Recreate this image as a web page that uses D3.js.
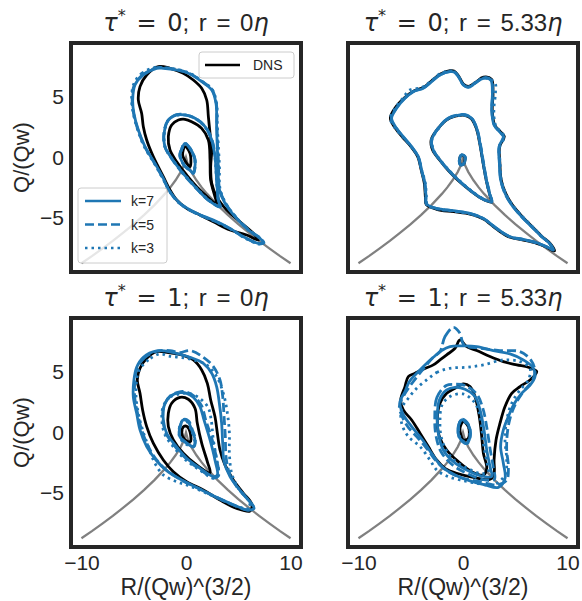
<!DOCTYPE html>
<html><head><meta charset="utf-8">
<script src="https://cdn.jsdelivr.net/npm/d3@7"></script>
<style>body{margin:0;background:#fff}svg{display:block}</style>
</head><body>
<script>
// ---------- data ----------
const xTicks = [-10, 0, 10];
const yTicks = [-5, 0, 5];
const seriesNames = ["DNS", "k=7", "k=5", "k=3"];
const titles = [["0","0"],["0","5.33"],["1","0"],["1","5.33"]];

// Vieillefosse tails (R, Q)
const vfR = [-10,-9,-8,-7,-6,-5,-4,-3,-2,-1.5,-1,-0.5,-0.2,0,0.2,0.5,1,1.5,2,3,4,5,6,7,8,9,10];
const vfQ = [-8.77,-8.18,-7.56,-6.92,-6.24,-5.53,-4.76,-3.93,-3.0,-2.48,-1.89,-1.19,-0.65,0,-0.65,-1.19,-1.89,-2.48,-3.0,-3.93,-4.76,-5.53,-6.24,-6.92,-7.56,-8.18,-8.77];

// ---- top-left: tau*=0, r=0 ----
const tl_dns_outer = [[-2.65,7.54],[-3.76,6.85],[-4.40,5.88],[-4.56,4.77],[-4.24,3.66],[-4.08,2.56],[-3.76,1.45],[-3.13,0.07],[-2.17,-1.59],[-1.53,-2.70],[-0.89,-3.53],[0.06,-4.22],[1.34,-4.77],[2.62,-5.33],[4.21,-6.02],[5.80,-6.43],[6.92,-6.85],[6.44,-6.29],[5.17,-5.33],[3.89,-4.36],[2.93,-3.25],[2.46,-2.14],[2.36,-0.76],[2.46,0.62],[2.30,2.0],[2.14,3.39],[1.98,4.77],[1.50,5.74],[0.70,6.43],[-0.26,6.98],[-1.53,7.40]];
const tl_dns_mid = [[-0.73,3.11],[-1.37,2.70],[-1.69,1.73],[-1.53,0.62],[-0.89,-0.35],[0.06,-1.45],[1.34,-2.70],[2.93,-3.80],[2.77,-3.25],[2.36,-1.87],[2.30,-0.21],[2.14,1.45],[1.50,2.42],[0.54,2.97],[-0.10,3.17]];
const tl_dns_in = [[-0.10,0.90],[-0.32,0.21],[0.0,-0.4],[0.38,-0.76],[0.45,0.07],[0.25,0.6]];
const tl_k7_outer = [[-2.81,7.40],[-4.08,6.85],[-4.88,6.02],[-5.10,4.77],[-4.98,3.66],[-4.56,2.28],[-3.92,0.90],[-2.97,-0.49],[-2.17,-1.73],[-1.53,-2.84],[-0.58,-3.80],[1.02,-4.63],[2.62,-5.19],[4.21,-5.88],[5.49,-6.57],[6.92,-7.12],[7.40,-7.07],[7.08,-6.71],[5.96,-6.02],[4.69,-4.91],[3.73,-3.80],[3.16,-2.56],[3.09,-0.76],[2.99,0.90],[2.93,2.56],[2.87,4.49],[2.46,5.60],[1.50,6.29],[0.38,6.93],[-0.89,7.26],[-2.17,7.40]];
const tl_k7_mid = [[-0.89,3.53],[-1.69,3.11],[-2.07,2.14],[-2.01,0.90],[-1.37,-0.07],[-0.42,-1.18],[0.86,-2.42],[2.14,-3.53],[3.25,-4.08],[3.09,-3.53],[2.93,-1.87],[2.77,0.07],[2.46,1.45],[1.82,2.56],[0.86,3.25],[-0.10,3.53]];
const tl_k7_in = [[-0.10,1.17],[-0.45,0.6],[-0.58,0.21],[-0.2,-0.6],[0.54,-1.18],[0.70,-1.31],[0.86,-0.21],[0.38,0.76]];
const tl_k5_outer = [[-2.75,7.45],[-4.1,6.9],[-4.95,6.0],[-5.15,4.75],[-5.0,3.6],[-4.6,2.3],[-3.95,0.9],[-3.0,-0.5],[-2.2,-1.75],[-1.55,-2.85],[-0.6,-3.82],[1.0,-4.65],[2.6,-5.22],[4.2,-5.9],[5.5,-6.6],[6.95,-7.15],[7.45,-7.1],[7.1,-6.7],[6.0,-6.0],[4.72,-4.9],[3.78,-3.78],[3.2,-2.55],[3.12,-0.75],[3.02,0.92],[2.96,2.58],[2.9,4.5],[2.5,5.62],[1.52,6.32],[0.4,6.95],[-0.88,7.3],[-2.15,7.44]];
const tl_k5_mid = [[-0.9,3.55],[-1.7,3.1],[-2.1,2.15],[-2.03,0.9],[-1.38,-0.08],[-0.43,-1.2],[0.85,-2.44],[2.15,-3.55],[3.27,-4.1],[3.1,-3.5],[2.95,-1.85],[2.8,0.08],[2.48,1.47],[1.83,2.58],[0.85,3.27],[-0.1,3.55]];
const tl_k5_in = [[-0.12,1.15],[-0.46,0.6],[-0.6,0.2],[-0.22,-0.62],[0.55,-1.2],[0.72,-1.3],[0.87,-0.2],[0.38,0.78]];
const tl_k3_outer = [[-2.85,7.5],[-4.2,7.0],[-5.0,6.1],[-5.2,4.8],[-5.05,3.7],[-4.62,2.3],[-3.98,0.88],[-3.02,-0.5],[-2.2,-1.78],[-1.5,-2.9],[-0.55,-3.85],[1.05,-4.68],[2.65,-5.25],[4.25,-5.92],[5.5,-6.62],[6.95,-7.18],[7.45,-7.12],[7.1,-6.72],[6.0,-6.05],[4.75,-4.92],[3.8,-3.8],[3.25,-2.55],[3.2,-0.76],[3.1,0.9],[3.0,2.56],[2.92,4.5],[2.5,5.65],[1.5,6.35],[0.38,6.98],[-0.9,7.32],[-2.17,7.45]];
const tl_k3_mid = [[-0.88,3.5],[-1.68,3.12],[-2.06,2.12],[-2.0,0.88],[-1.36,-0.06],[-0.4,-1.17],[0.87,-2.4],[2.13,-3.5],[3.23,-4.06],[3.08,-3.55],[2.92,-1.88],[2.76,0.06],[2.45,1.44],[1.8,2.55],[0.87,3.24],[-0.1,3.52]];
const tl_k3_in = [[-0.1,1.18],[-0.44,0.62],[-0.57,0.22],[-0.19,-0.58],[0.53,-1.16],[0.69,-1.3],[0.85,-0.22],[0.37,0.75]];

// ---- top-right: tau*=0, r=5.33 ----
const tr_dns_outer = [[-1.24,7.2],[-2.2,6.9],[-3.0,6.35],[-3.8,5.8],[-4.75,5.5],[-5.6,4.95],[-6.5,4.1],[-6.95,3.25],[-6.45,2.4],[-5.8,1.7],[-4.95,0.88],[-4.32,0.05],[-4.0,-1.04],[-3.7,-2.14],[-3.6,-3.25],[-3.52,-3.9],[-2.52,-4.3],[-0.92,-4.5],[0.67,-4.7],[1.95,-5.1],[3.22,-5.95],[4.5,-6.62],[5.77,-6.85],[7.05,-7.12],[8.01,-7.45],[8.75,-7.75],[8.35,-7.15],[7.55,-6.55],[6.6,-5.72],[5.65,-4.88],[4.7,-3.9],[4.06,-2.94],[3.65,-1.85],[3.53,-0.49],[3.5,0.9],[3.95,1.75],[3.55,2.16],[3.02,2.72],[2.8,3.94],[2.87,5.32],[2.72,6.5],[1.95,6.66],[1.15,6.2],[0.51,5.9],[0.03,6.1],[-0.45,6.8],[-0.86,7.18]];
const tr_dns_mid = [[-0.29,3.5],[-1.4,3.22],[-2.4,2.4],[-3.05,1.45],[-2.9,0.6],[-2.22,-0.22],[-1.42,-1.06],[-0.46,-1.9],[0.67,-2.72],[1.79,-3.41],[2.74,-3.7],[2.56,-3.1],[2.25,-2.0],[1.93,-0.49],[1.6,1.17],[1.28,2.4],[0.8,3.22],[0.19,3.5]];
const tr_dns_in = [[-0.13,0.2],[-0.33,-0.2],[-0.2,-0.6],[0.08,-0.5],[0.17,0.05]];
const tr_k7_outer = [[-1.24,7.12],[-2.2,6.85],[-3.0,6.29],[-3.8,5.74],[-4.75,5.46],[-5.55,4.91],[-6.35,4.08],[-6.83,3.25],[-6.35,2.42],[-5.71,1.73],[-4.91,0.90],[-4.27,0.07],[-3.96,-1.04],[-3.64,-2.14],[-3.54,-3.25],[-3.48,-3.86],[-2.52,-4.22],[-0.92,-4.41],[0.67,-4.63],[1.95,-5.05],[3.22,-5.88],[4.50,-6.57],[5.77,-6.79],[7.05,-7.07],[8.01,-7.40],[8.64,-7.68],[8.33,-7.18],[7.53,-6.57],[6.57,-5.74],[5.61,-4.91],[4.66,-3.94],[4.02,-2.97],[3.60,-1.87],[3.48,-0.49],[3.45,0.90],[3.86,1.73],[3.48,2.14],[2.97,2.70],[2.74,3.94],[2.81,5.32],[2.65,6.43],[1.95,6.57],[1.15,6.15],[0.51,5.82],[0.03,6.02],[-0.45,6.71],[-0.86,7.10]];
const tr_k7_mid = [[-0.29,3.53],[-1.40,3.25],[-2.36,2.42],[-3.00,1.45],[-2.84,0.62],[-2.20,-0.21],[-1.40,-1.04],[-0.45,-1.87],[0.67,-2.70],[1.79,-3.39],[2.74,-3.67],[2.58,-3.11],[2.27,-2.01],[1.95,-0.49],[1.63,1.17],[1.31,2.42],[0.83,3.25],[0.19,3.53]];
const tr_k7_in = [[-0.13,0.21],[-0.35,-0.21],[-0.22,-0.62],[0.10,-0.49],[0.19,0.07]];
const tr_k5_outer = [[-1.22,7.15],[-2.18,6.87],[-3.02,6.3],[-3.82,5.76],[-4.78,5.48],[-5.58,4.92],[-6.38,4.1],[-6.86,3.24],[-6.37,2.4],[-5.73,1.72],[-4.93,0.9],[-4.29,0.06],[-3.98,-1.05],[-3.66,-2.15],[-3.56,-3.26],[-3.5,-3.88],[-2.5,-4.24],[-0.9,-4.43],[0.69,-4.65],[1.97,-5.07],[3.24,-5.9],[4.52,-6.58],[5.79,-6.8],[7.07,-7.08],[8.03,-7.42],[8.62,-7.66],[8.3,-7.16],[7.5,-6.55],[6.55,-5.72],[5.6,-4.9],[4.65,-3.92],[4.0,-2.96],[3.62,-1.86],[3.5,-0.48],[3.47,0.9],[3.88,1.75],[3.5,2.15],[2.99,2.7],[2.76,3.95],[2.83,5.33],[2.67,6.45],[1.96,6.6],[1.14,6.17],[0.5,5.84],[0.02,6.04],[-0.44,6.73],[-0.85,7.12]];
const tr_k5_mid = [[-0.3,3.55],[-1.42,3.26],[-2.38,2.43],[-3.02,1.45],[-2.85,0.61],[-2.21,-0.22],[-1.41,-1.05],[-0.44,-1.88],[0.68,-2.72],[1.8,-3.4],[2.76,-3.69],[2.6,-3.1],[2.29,-2.0],[1.97,-0.48],[1.65,1.18],[1.32,2.43],[0.84,3.26],[0.2,3.55]];
const tr_k5_in = [[-0.12,0.22],[-0.34,-0.2],[-0.21,-0.61],[0.11,-0.48],[0.2,0.08]];
const tr_k3_outer = [[-1.26,7.18],[-2.25,6.92],[-3.05,6.35],[-3.9,5.82],[-5.1,5.6],[-5.7,4.98],[-6.45,4.12],[-6.95,3.25],[-6.45,2.4],[-5.75,1.7],[-4.95,0.88],[-4.3,0.05],[-3.95,-1.05],[-3.6,-2.15],[-3.5,-3.27],[-3.4,-3.92],[-2.5,-4.26],[-0.9,-4.46],[0.7,-4.68],[1.98,-5.1],[3.25,-5.93],[4.53,-6.6],[5.8,-6.82],[7.08,-7.1],[8.05,-7.44],[8.6,-7.65],[8.28,-7.14],[7.5,-6.52],[6.6,-5.7],[5.65,-4.86],[4.7,-3.9],[4.06,-2.94],[3.66,-1.85],[3.55,-0.5],[3.52,0.9],[3.95,1.72],[3.58,2.14],[3.1,2.72],[2.95,3.95],[3.1,5.3],[3.05,6.2],[2.0,6.62],[1.15,6.2],[0.52,5.86],[0.04,6.06],[-0.43,6.75],[-0.84,7.15]];
const tr_k3_mid = [[-0.28,3.5],[-1.38,3.22],[-2.34,2.4],[-2.98,1.44],[-2.82,0.63],[-2.18,-0.2],[-1.38,-1.02],[-0.43,-1.85],[0.68,-2.68],[1.8,-3.37],[2.72,-3.64],[2.56,-3.12],[2.25,-2.02],[1.93,-0.5],[1.61,1.16],[1.29,2.4],[0.82,3.22],[0.18,3.5]];
const tr_k3_in = [[-0.14,0.2],[-0.36,-0.22],[-0.23,-0.63],[0.09,-0.5],[0.18,0.06]];

// ---- bottom-left: tau*=1, r=0 ----
const bl_dns_outer = [[-2.81,6.71],[-3.76,6.16],[-4.40,5.33],[-4.66,4.36],[-4.40,3.25],[-4.15,1.87],[-3.76,0.49],[-3.13,-0.89],[-2.17,-2.28],[-1.21,-3.25],[0.06,-4.08],[1.66,-4.77],[3.25,-5.60],[4.85,-6.29],[6.12,-6.51],[6.28,-5.93],[5.49,-5.04],[4.53,-3.94],[3.73,-2.69],[3.25,-1.45],[3.00,-0.06],[2.77,1.32],[2.36,2.70],[2.04,4.08],[1.50,5.19],[0.70,6.02],[-0.42,6.44],[-1.69,6.63]];
const bl_dns_mid = [[-0.57,2.92],[-1.37,2.43],[-1.69,1.59],[-1.69,0.49],[-1.21,-0.62],[-0.26,-1.72],[1.02,-2.69],[2.30,-3.33],[2.04,-2.42],[1.50,-0.89],[1.08,0.76],[0.86,2.01],[0.22,2.76]];
const bl_dns_in = [[-0.2,0.5],[-0.4,0.0],[-0.1,-0.6],[0.4,-0.76],[0.4,0.0],[0.1,0.5]];
const bl_k7_outer = [[-2.81,6.77],[-4.08,6.24],[-4.72,5.41],[-4.98,4.36],[-5.04,2.98],[-4.72,1.59],[-4.40,0.21],[-3.76,-1.17],[-2.87,-2.28],[-1.85,-3.16],[-0.42,-3.94],[1.18,-4.63],[2.77,-5.32],[4.37,-5.93],[5.96,-6.43],[6.51,-6.29],[5.96,-5.60],[5.01,-4.63],[4.21,-3.66],[3.64,-2.42],[3.51,-0.89],[3.41,0.76],[3.19,2.43],[2.93,3.81],[2.46,4.91],[1.66,5.74],[0.38,6.24],[-1.21,6.63]];
const bl_k7_mid = [[-0.57,3.31],[-1.53,2.98],[-2.11,2.15],[-2.17,1.04],[-1.85,-0.06],[-1.05,-1.03],[0.06,-2.14],[1.34,-2.97],[2.62,-3.66],[3.0,-3.52],[2.77,-2.28],[2.30,-0.62],[1.72,1.04],[1.34,2.15],[0.70,2.92],[0.06,3.25]];
const bl_k7_in = [[-0.26,1.04],[-0.58,0.49],[-0.58,-0.34],[0.06,-0.89],[0.70,-1.17],[0.86,-0.62],[0.54,0.21],[0.2,0.9]];
const bl_k5_outer = [[-2.65,6.77],[-3.92,6.24],[-4.66,5.41],[-4.88,4.36],[-4.91,2.98],[-4.63,1.59],[-4.24,0.21],[-3.60,-1.17],[-2.81,-2.28],[-1.69,-3.25],[-0.26,-4.02],[1.34,-4.71],[2.93,-5.38],[4.53,-6.01],[5.96,-6.43],[6.44,-6.15],[5.80,-5.46],[4.85,-4.49],[4.15,-3.38],[3.83,-2.0],[3.76,-0.34],[3.64,1.32],[3.51,2.98],[3.25,4.36],[2.62,5.47],[1.66,6.24],[0.38,6.80],[-0.58,6.63],[-1.53,6.80]];
const bl_k5_mid = [[-0.5,3.4],[-1.5,3.05],[-2.1,2.2],[-2.2,1.0],[-1.9,-0.1],[-1.1,-1.1],[0.05,-2.2],[1.3,-3.05],[2.6,-3.75],[3.1,-3.6],[2.95,-2.3],[2.5,-0.6],[1.9,1.0],[1.5,2.2],[0.8,3.0],[0.1,3.35]];
const bl_k5_in = [[-0.2,1.1],[-0.55,0.5],[-0.6,-0.3],[0.05,-0.85],[0.72,-1.2],[0.9,-0.6],[0.6,0.25],[0.25,0.95]];
const bl_k3_outer = [[-2.49,6.52],[-3.60,6.02],[-4.47,5.19],[-4.72,4.36],[-4.78,2.98],[-4.56,1.59],[-4.15,0.21],[-3.60,-1.17],[-2.97,-2.55],[-2.17,-3.52],[-0.89,-4.08],[0.38,-4.44],[1.98,-5.04],[3.57,-5.65],[5.17,-6.21],[6.12,-6.29],[5.96,-5.65],[5.01,-4.63],[4.37,-3.38],[4.15,-1.72],[4.15,-0.06],[3.96,1.59],[3.57,3.25],[2.93,4.64],[1.98,5.61],[0.70,6.02],[-0.58,6.24],[-1.69,6.35]];
const bl_k3_mid = [[-0.6,3.2],[-1.6,2.9],[-2.2,2.1],[-2.3,0.9],[-2.0,-0.2],[-1.2,-1.2],[0.0,-2.3],[1.3,-3.1],[2.7,-3.8],[3.1,-3.4],[2.9,-2.1],[2.6,-0.5],[2.4,1.1],[2.1,2.1],[1.2,2.9],[0.2,3.25]];
const bl_k3_in = [[-0.3,1.0],[-0.62,0.45],[-0.6,-0.4],[0.0,-0.95],[0.68,-1.15],[0.82,-0.6],[0.5,0.2],[0.15,0.85]];

// ---- bottom-right: tau*=1, r=5.33 ----
const br_dns_outer = [[-0.29,7.68],[-0.76,6.99],[-1.56,6.44],[-2.20,6.02],[-2.84,5.61],[-3.80,5.25],[-4.59,4.91],[-5.23,4.64],[-5.55,3.81],[-5.96,2.70],[-5.71,1.87],[-4.91,1.04],[-4.11,-0.06],[-3.32,-1.17],[-2.52,-2.28],[-1.72,-2.97],[-0.61,-3.38],[0.99,-3.72],[2.58,-3.88],[2.97,-3.38],[2.97,-2.28],[3.16,-0.62],[3.54,0.77],[4.02,2.15],[4.66,3.25],[5.45,3.81],[6.41,4.36],[7.05,5.05],[6.25,5.41],[5.14,5.61],[3.86,5.88],[2.58,6.30],[1.31,6.80],[0.35,7.13]];
const br_dns_mid = [[0.03,4.03],[-0.76,3.67],[-1.56,3.25],[-2.20,2.43],[-2.46,1.04],[-2.26,-0.34],[-1.56,-1.45],[-0.45,-2.42],[0.83,-3.25],[1.95,-3.52],[2.27,-2.97],[1.95,-1.72],[1.79,-0.34],[1.56,1.32],[1.15,2.98],[0.67,3.81]];
const br_dns_in = [[0.03,0.90],[-0.29,0.35],[0.03,-0.62],[0.51,-0.48],[0.51,0.49]];
const br_k7_outer = [[-1.24,7.13],[0.03,7.18],[1.31,7.13],[2.90,6.79],[4.50,6.52],[5.77,6.02],[6.67,5.41],[6.89,4.64],[6.35,3.86],[5.61,3.25],[4.88,2.37],[4.34,1.32],[3.86,0.21],[3.60,-1.17],[3.86,-2.55],[4.02,-3.80],[3.38,-4.55],[2.11,-4.35],[0.67,-4.02],[-0.77,-3.52],[-1.95,-2.89],[-2.90,-1.86],[-3.86,-0.62],[-4.91,0.49],[-5.77,1.59],[-6.03,2.56],[-5.55,3.39],[-5.14,4.22],[-4.43,4.91],[-3.64,5.61],[-2.84,6.24],[-2.04,6.80]];
const br_k7_mid = [[-1.56,3.53],[-2.26,2.70],[-2.46,1.32],[-2.36,-0.06],[-1.88,-1.45],[-0.92,-2.42],[0.35,-3.11],[1.79,-3.61],[2.74,-3.66],[2.58,-2.83],[2.27,-1.45],[2.01,0.21],[1.63,1.87],[1.15,2.98],[0.19,3.59],[-0.77,3.75]];
const br_k7_in = [[-0.13,1.04],[-0.45,0.35],[-0.29,-0.48],[0.35,-0.89],[0.67,-0.34],[0.51,0.62]];
const br_k5_outer = [[-2.20,6.71],[-1.72,7.96],[-0.92,8.73],[-0.29,8.23],[0.09,7.27],[1.63,6.99],[3.54,6.80],[5.45,6.71],[6.48,6.02],[6.89,5.05],[6.57,4.22],[5.77,3.39],[4.98,2.29],[4.50,1.18],[4.24,-0.06],[4.18,-1.45],[4.34,-2.83],[4.18,-3.94],[3.22,-4.35],[1.63,-4.08],[0.03,-3.80],[-1.40,-3.25],[-2.52,-2.42],[-3.48,-1.31],[-4.43,-0.34],[-5.39,0.62],[-6.09,2.15],[-5.71,2.98],[-5.07,3.86],[-4.27,4.77],[-3.48,5.61],[-2.84,6.24]];
const br_k5_mid = [[-1.6,3.9],[-2.5,2.9],[-2.7,1.3],[-2.6,-0.2],[-2.1,-1.6],[-1.0,-2.7],[0.4,-3.4],[1.9,-3.9],[3.0,-3.9],[2.9,-2.9],[2.6,-1.4],[2.3,0.3],[1.9,2.0],[1.3,3.2],[0.2,3.9],[-0.8,4.0]];
const br_k5_in = [[-0.1,1.1],[-0.48,0.35],[-0.3,-0.52],[0.38,-0.92],[0.7,-0.3],[0.52,0.66]];
const br_k3_outer = [[-3.48,4.36],[-2.52,4.97],[-1.24,5.33],[0.35,5.41],[1.95,5.61],[3.86,6.02],[5.45,5.88],[6.41,5.33],[6.25,4.36],[5.45,3.53],[4.66,2.43],[4.18,1.04],[4.02,-0.62],[4.18,-2.28],[4.02,-3.52],[2.90,-4.35],[1.31,-4.21],[-0.29,-3.94],[-1.56,-3.61],[-2.52,-3.11],[-3.16,-2.28],[-4.11,-1.17],[-5.23,-0.34],[-5.87,0.77],[-5.87,2.01],[-5.23,2.84],[-4.43,3.67]];
const br_k3_mid = [[-1.2,3.0],[-2.0,2.3],[-2.2,1.0],[-2.1,-0.3],[-1.6,-1.5],[-0.7,-2.4],[0.5,-3.0],[1.7,-3.4],[2.4,-3.3],[2.3,-2.5],[2.0,-1.2],[1.8,0.3],[1.5,1.8],[0.9,2.7],[0.0,3.2]];
const br_k3_in = [[-0.16,1.0],[-0.42,0.32],[-0.26,-0.45],[0.32,-0.85],[0.64,-0.36],[0.48,0.58]];

// ---------- layout ----------
const W = 582, H = 601;
const PW = 230, PH = 229;
const origins = [[71,43],[348,43],[71,318],[348,318]];
const panelData = [
  {dns:[tl_dns_outer,tl_dns_mid,tl_dns_in], k7:[tl_k7_outer,tl_k7_mid,tl_k7_in], k5:[tl_k5_outer,tl_k5_mid,tl_k5_in], k3:[tl_k3_outer,tl_k3_mid,tl_k3_in]},
  {dns:[tr_dns_outer,tr_dns_mid,tr_dns_in], k7:[tr_k7_outer,tr_k7_mid,tr_k7_in], k5:[tr_k5_outer,tr_k5_mid,tr_k5_in], k3:[tr_k3_outer,tr_k3_mid,tr_k3_in]},
  {dns:[bl_dns_outer,bl_dns_mid,bl_dns_in], k7:[bl_k7_outer,bl_k7_mid,bl_k7_in], k5:[bl_k5_outer,bl_k5_mid,bl_k5_in], k3:[bl_k3_outer,bl_k3_mid,bl_k3_in]},
  {dns:[br_dns_outer,br_dns_mid,br_dns_in], k7:[br_k7_outer,br_k7_mid,br_k7_in], k5:[br_k5_outer,br_k5_mid,br_k5_in], k3:[br_k3_outer,br_k3_mid,br_k3_in]}
];
const BLUE = "#1f77b4";
const styles = {
  dns:{color:"#000", dash:null},
  k7:{color:BLUE, dash:null},
  k5:{color:BLUE, dash:"9,4"},
  k3:{color:BLUE, dash:"2.5,4"}
};
const FONT = "'Liberation Sans', Arial, sans-serif";
const MATH = "'DejaVu Sans', sans-serif";

const svg = d3.select("body").append("svg").attr("width", W).attr("height", H);

const vf = vfR.map((r,i)=>[r, vfQ[i]]);

origins.forEach(([x0,y0], i) => {
  const x = d3.scaleLinear().domain([-11, 11]).range([x0, x0 + PW]);
  const y = d3.scaleLinear().domain([-9.5, 9.5]).range([y0 + PH, y0]);
  const g = svg.append("g");
  const clipId = "clip" + i;
  g.append("clipPath").attr("id", clipId).append("rect").attr("x", x0).attr("y", y0).attr("width", PW).attr("height", PH);
  const c = g.append("g").attr("clip-path", `url(#${clipId})`);

  const closed = d3.line().x(d=>x(d[0])).y(d=>y(d[1])).curve(d3.curveCatmullRomClosed.alpha(0.5));
  const open = d3.line().x(d=>x(d[0])).y(d=>y(d[1]));

  c.append("path").attr("d", open(vf)).attr("fill","none").attr("stroke","#808080").attr("stroke-width",2.3);

  ["dns","k7","k5","k3"].forEach(key => {
    panelData[i][key].forEach(level => {
      c.append("path").attr("d", closed(level))
        .attr("fill","none").attr("stroke", styles[key].color)
        .attr("stroke-width", 2.8)
        .attr("stroke-dasharray", styles[key].dash)
        .attr("stroke-linejoin","round");
    });
  });

  // frame
  g.append("rect").attr("x", x0).attr("y", y0).attr("width", PW).attr("height", PH)
    .attr("fill","none").attr("stroke","#262626").attr("stroke-width",4);

  // title
  const [tau, rr] = titles[i];
  const t = g.append("text").attr("x", x0 + PW/2).attr("y", y0 - 12)
    .attr("text-anchor","middle").attr("font-size", 24).attr("word-spacing", 3)
    .attr("fill","#262626").attr("font-family", FONT);
  t.append("tspan").attr("font-family", MATH).attr("font-style","italic").text("τ");
  t.append("tspan").attr("font-family", MATH).attr("font-size", 16).attr("dy", -10).text("*");
  t.append("tspan").attr("font-family", MATH).attr("dy", 10).text(" = " + tau);
  t.append("tspan").text("; r = " + rr);
  t.append("tspan").attr("font-family", MATH).attr("font-style","italic").text("η");

  // axes
  if (i % 2 === 0) {
    const ax = g.append("g").attr("transform", `translate(${x0},0)`)
      .call(d3.axisLeft(y).tickValues(yTicks).tickSize(0).tickPadding(7));
    ax.select(".domain").remove();
    ax.selectAll("text").attr("font-size", 21).attr("font-family", FONT).attr("fill","#262626");
    g.append("text").attr("transform", `translate(29,${y0 + PH/2}) rotate(-90)`)
      .attr("text-anchor","middle").attr("font-size", 22).attr("font-family", FONT).attr("fill","#262626")
      .text("Q/(Qw)");
  }
  if (i >= 2) {
    const ax = g.append("g").attr("transform", `translate(0,${y0 + PH})`)
      .call(d3.axisBottom(x).tickValues(xTicks).tickSize(0).tickPadding(8));
    ax.select(".domain").remove();
    ax.selectAll("text").attr("font-size", 21).attr("font-family", FONT).attr("fill","#262626");
    g.append("text").attr("x", x0 + PW/2).attr("y", 595)
      .attr("text-anchor","middle").attr("font-size", 23).attr("font-family", FONT).attr("fill","#262626")
      .text("R/(Qw)^(3/2)");
  }
});

// legends (top-left panel)
const lg1 = svg.append("g");
lg1.append("rect").attr("x",199).attr("y",52).attr("width",95).attr("height",26).attr("rx",3)
  .attr("fill","#fff").attr("fill-opacity",0.8).attr("stroke","#cccccc").attr("stroke-width",1);
lg1.append("line").attr("x1",205).attr("x2",240).attr("y1",65).attr("y2",65).attr("stroke","#000").attr("stroke-width",2.5);
lg1.append("text").attr("x",253).attr("y",70).attr("font-size",14).attr("font-family",FONT).attr("fill","#262626").text(seriesNames[0]);

const lg2 = svg.append("g");
lg2.append("rect").attr("x",78).attr("y",188).attr("width",89).attr("height",75).attr("rx",3)
  .attr("fill","#fff").attr("fill-opacity",0.8).attr("stroke","#cccccc").attr("stroke-width",1);
const kKeys = ["k7","k5","k3"];
const kY = [201, 224.5, 248];
kKeys.forEach((k, j) => {
  lg2.append("line").attr("x1",85).attr("x2",121).attr("y1",kY[j]).attr("y2",kY[j])
    .attr("stroke",BLUE).attr("stroke-width",2.5).attr("stroke-dasharray", styles[k].dash);
  lg2.append("text").attr("x",131).attr("y",kY[j]+5).attr("font-size",14).attr("font-family",FONT).attr("fill","#262626").text(seriesNames[j+1]);
});
</script>
</body></html>
